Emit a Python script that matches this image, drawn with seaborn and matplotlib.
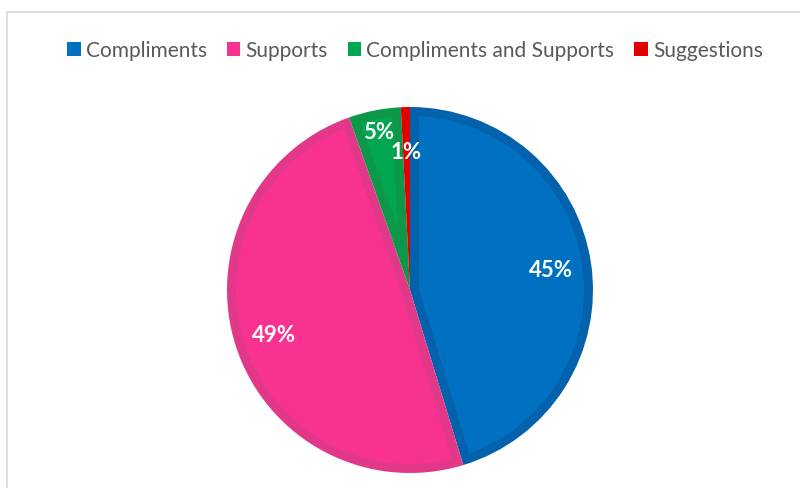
import matplotlib
matplotlib.use("Agg")
import matplotlib.pyplot as plt
import numpy as np
from matplotlib.lines import Line2D
from matplotlib.patches import Patch, Polygon
import seaborn as sns

# data
categories = ["Compliments", "Supports", "Compliments and Supports", "Suggestions"]
shares = [45.3, 49.3, 4.6, 0.8]
face_colors = ["#0070C0", "#F8338F", "#00A650", "#E00000"]
edge_colors = ["#0462AC", "#E2388A", "#0C9848", "#C80000"]

sns.set_theme(style="white")
plt.rcParams["font.family"] = ["Lato", "DejaVu Sans"]

W, H = 800, 489
r = 183          # pie radius in px
cx, cy = 410, 291
inset = 9 / r    # darker border width, data units

fig = plt.figure(figsize=(W / 100, H / 100), dpi=100)
ax = fig.add_axes([0, 0, 1, 1])

# dark base pie; the lighter inset body is laid on top
wedges, texts, autotexts = ax.pie(
    shares,
    colors=edge_colors,
    startangle=90,
    counterclock=False,
    autopct=lambda p: f"{p:.0f}%",
    pctdistance=0.78,
    radius=1.0,
    center=(0, 0),
    wedgeprops=dict(linewidth=0),
    textprops=dict(color="white", fontsize=16, fontweight="bold"),
)


def inset_polygon(w, d):
    """Wedge shrunk inward by d on all sides (None if too thin)."""
    t1, t2 = np.radians(w.theta1), np.radians(w.theta2)
    half = (t2 - t1) / 2
    tip = d / np.sin(half)
    R = w.r - d
    if tip >= R * 0.95:
        return None
    beta = np.arcsin(d / R)
    arc = np.linspace(t1 + beta, t2 - beta, 120)
    mid = t1 + half
    pts = [(tip * np.cos(mid), tip * np.sin(mid))]
    pts += list(zip(R * np.cos(arc), R * np.sin(arc)))
    return np.array(pts)


for w, fc in zip(wedges, face_colors):
    pts = inset_polygon(w, inset)
    if pts is None:
        w.set_facecolor(fc)
        continue
    ax.add_patch(Polygon(pts, closed=True, facecolor=fc, edgecolor="none"))

# small slice labels sit a little further out
gx, gy = autotexts[2].get_position()
autotexts[2].set_position((gx * 1.13, gy * 1.13))
rx, ry = autotexts[3].get_position()
autotexts[3].set_position((rx, ry * 0.97))

ax.set_xlim(-cx / r, (W - cx) / r)
ax.set_ylim(-(H - cy) / r, cy / r)
ax.set_aspect("equal")
ax.axis("off")

handles = [Patch(facecolor=c, edgecolor="none") for c in face_colors]
leg = fig.legend(
    handles, categories,
    loc="center", bbox_to_anchor=(415 / W, 1 - 51 / H),
    ncol=4, frameon=False, fontsize=15,
    handlelength=0.65, handleheight=0.65, handletextpad=0.25,
    columnspacing=0.95, labelcolor="#595959",
)

# light gray chart border (left and top)
fig.add_artist(Line2D([6.5 / W, 6.5 / W], [0, 1 - 13 / H], color="#D9D9D9", lw=1.2))
fig.add_artist(Line2D([6.5 / W, 1], [1 - 13 / H, 1 - 13 / H], color="#D9D9D9", lw=1.2))

fig.savefig("out.png", dpi=100)
